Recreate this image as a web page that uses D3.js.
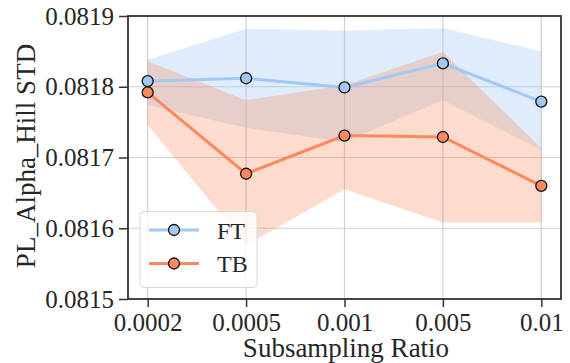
<!DOCTYPE html>
<html><head><meta charset="utf-8">
<script src="https://cdn.jsdelivr.net/npm/d3@7"></script>
<style>
html,body{margin:0;padding:0;background:#fff;}
svg text{font-family:"Liberation Serif","Times New Roman",Times,serif !important;}
</style></head>
<body>
<svg id="chart" width="570" height="363"></svg>
<script>
const categories = ["0.0002","0.0005","0.001","0.005","0.01"];
const yTicks = [0.0815,0.0816,0.0817,0.0818,0.0819];
const ftMean  = [0.081808,0.081812,0.081799,0.081833,0.081779];
const ftUpper = [0.081838,0.081882,0.081879,0.081883,0.081850];
const ftLower = [0.081774,0.081742,0.081722,0.081781,0.081711];
const tbMean  = [0.081792,0.081677,0.081731,0.081729,0.081660];
const tbUpper = [0.081836,0.081781,0.081802,0.081849,0.081713];
const tbLower = [0.081746,0.081576,0.081655,0.081608,0.081608];
const seriesNames = ["FT","TB"];
const colors = {FT:"#a1c9f4", TB:"#fa8a5e"};

const W=570,H=363, L=128, R=561, T=16, B=299;
const svg=d3.select("#chart");
const x=d3.scalePoint().domain(categories).range([L,R]).padding(0.2);
const y=d3.scaleLinear().domain([0.0815,0.0819]).range([B,T]);

// grid
svg.append("g").selectAll("line").data(categories).join("line")
 .attr("x1",d=>x(d)).attr("x2",d=>x(d)).attr("y1",T).attr("y2",B)
 .attr("stroke","#d0d0d0").attr("stroke-width",1.2);
svg.append("g").selectAll("line").data(yTicks).join("line")
 .attr("x1",L).attr("x2",R).attr("y1",d=>y(d)).attr("y2",d=>y(d))
 .attr("stroke","#d0d0d0").attr("stroke-width",1.2);

const area=(up,lo)=>d3.area().x((d,i)=>x(categories[i])).y0((d,i)=>y(lo[i])).y1((d,i)=>y(up[i]))(categories);
svg.append("path").attr("d",area(ftUpper,ftLower)).attr("fill",colors.FT).attr("fill-opacity",0.35);
svg.append("path").attr("d",area(tbUpper,tbLower)).attr("fill",colors.TB).attr("fill-opacity",0.3);

const line=d3.line().x((d,i)=>x(categories[i])).y(d=>y(d));
[[ftMean,colors.FT],[tbMean,colors.TB]].forEach(([m,c])=>{
  svg.append("path").attr("d",line(m)).attr("fill","none").attr("stroke",c).attr("stroke-width",3);
  svg.append("g").selectAll("circle").data(m).join("circle")
   .attr("cx",(d,i)=>x(categories[i])).attr("cy",d=>y(d)).attr("r",5.5)
   .attr("fill",c).attr("stroke","#111").attr("stroke-width",1.3);
});

// axes
const fs=25;
const xa=svg.append("g").attr("transform",`translate(0,${B})`)
 .call(d3.axisBottom(x).tickSize(8).tickPadding(6));
const ya=svg.append("g").attr("transform",`translate(${L},0)`)
 .call(d3.axisLeft(y).tickValues(yTicks).tickFormat(d3.format(".4f")).tickSize(9).tickPadding(5));
[xa,ya].forEach(a=>{
  a.attr("font-family",null).attr("font-size",null);
  a.select(".domain").remove();
  a.selectAll(".tick line").attr("stroke","#333").attr("stroke-width",1.5);
  a.selectAll("text").attr("font-size",fs).attr("fill","#262626");
});
// frame
svg.append("rect").attr("x",L).attr("y",T).attr("width",R-L).attr("height",B-T)
 .attr("fill","none").attr("stroke","#333").attr("stroke-width",1.8);

svg.append("text").attr("x",346).attr("y",357).attr("text-anchor","middle")
 .attr("font-size",27).attr("fill","#262626").text("Subsampling Ratio");
svg.append("text").attr("transform","translate(35,156) rotate(-90)").attr("text-anchor","middle")
 .attr("font-size",27).attr("fill","#262626").text("PL_Alpha_Hill STD");

// legend
const lg=svg.append("g");
lg.append("rect").attr("x",140).attr("y",211.5).attr("width",117).attr("height",76).attr("rx",4)
 .attr("fill","#fff").attr("fill-opacity",0.8).attr("stroke","#d8d8d8").attr("stroke-width",1);
seriesNames.forEach((n,i)=>{
  const yy=230+i*33.5;
  lg.append("line").attr("x1",149).attr("x2",199).attr("y1",yy).attr("y2",yy).attr("stroke",colors[n]).attr("stroke-width",3);
  lg.append("circle").attr("cx",174).attr("cy",yy).attr("r",5.5).attr("fill",colors[n]).attr("stroke","#111").attr("stroke-width",1.3);
  lg.append("text").attr("x",217).attr("y",yy+8.5).attr("font-size",24).attr("fill","#262626").text(n);
});
</script>
</body></html>
